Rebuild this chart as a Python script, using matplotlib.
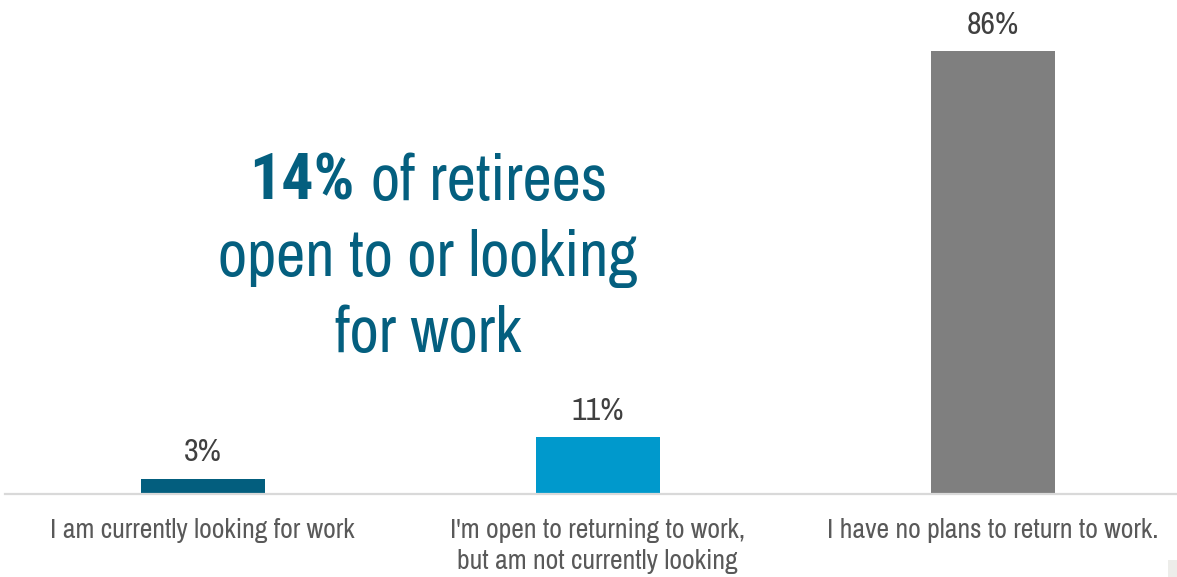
import matplotlib
matplotlib.use("Agg")
import matplotlib.pyplot as plt
from matplotlib.patches import Rectangle

categories = ["I am currently looking for work",
              "I'm open to returning to work,\nbut am not currently looking",
              "I have no plans to return to work."]
values = [3, 11, 86]
value_labels = ["3%", "11%", "86%"]
bar_colors = ["#035e7e", "#0099cc", "#7f7f7f"]
headline_bold = "14%"
headline_rest = "of retirees"
headline_lines = ["open to or looking", "for work"]

FONT = ['Archivo Narrow', 'Roboto Condensed', 'Liberation Sans', 'DejaVu Sans']
BOLD_FONT = ['Roboto Condensed', 'Archivo Narrow', 'Liberation Sans', 'DejaVu Sans']
plt.rcParams['font.family'] = FONT

W, H = 1177, 577
fig = plt.figure(figsize=(W / 100, H / 100), dpi=100)
fig.patch.set_facecolor("white")

base_px = 494          # baseline from top
px_per_unit = 443 / 86
spacing = 395
left_px, right_px = 5, 1177
ax = fig.add_axes([left_px / W, (H - base_px) / H, (right_px - left_px) / W, base_px / H])
ax.set_xlim(-0.5, -0.5 + (right_px - left_px) / spacing)
ax.set_ylim(0, base_px / px_per_unit)

x = list(range(len(values)))
ax.bar(x, values, width=124 / spacing, color=bar_colors, zorder=2)

for s in ["top", "right", "left"]:
    ax.spines[s].set_visible(False)
ax.spines["bottom"].set_color("#d9d9d9")
ax.spines["bottom"].set_linewidth(1.6)
ax.set_yticks([])
ax.set_xticks([])
ax.patch.set_alpha(0)

for xi, v, lab in zip(x, values, value_labels):
    ax.annotate(lab, (xi, v), xytext=(0, 17.5 * 0.72), textcoords="offset points",
                ha="center", va="baseline", fontsize=23, color="#404040")

for xi, cat in zip(x, categories):
    for k, line in enumerate(cat.split("\n")):
        ax.annotate(line, (xi, 0), xytext=(0, -(44 + 31 * k) * 0.72),
                    textcoords="offset points", ha="center", va="baseline",
                    fontsize=20, color="#595959")

# headline
teal = "#045f7f"
hs = 46
cx = 428
fig.canvas.draw()
r = fig.canvas.get_renderer()
t1 = fig.text(0, 0, headline_bold, fontsize=hs, fontweight="bold", color=teal,
              family=BOLD_FONT, transform=None, va="baseline", ha="left")
t2 = fig.text(0, 0, headline_rest, fontsize=hs, color=teal,
              transform=None, va="baseline", ha="left")
w1 = t1.get_window_extent(r).width
w2 = t2.get_window_extent(r).width
gap = 16
start = cx - (w1 + gap + w2) / 2
y1 = H - 200
t1.set_position((start, y1))
t2.set_position((start + w1 + gap, y1))
for k, line in enumerate(headline_lines):
    fig.text(cx, H - (276 + 76 * k), line, fontsize=hs, color=teal,
             transform=None, va="baseline", ha="center")

# small grey tab at bottom-right corner
fig.patches.append(Rectangle((1168 / W, 0), 9 / W, 17 / H, transform=fig.transFigure,
                             facecolor="#ededea", edgecolor="none", figure=fig))

fig.savefig("out.png", dpi=100, facecolor="white")
